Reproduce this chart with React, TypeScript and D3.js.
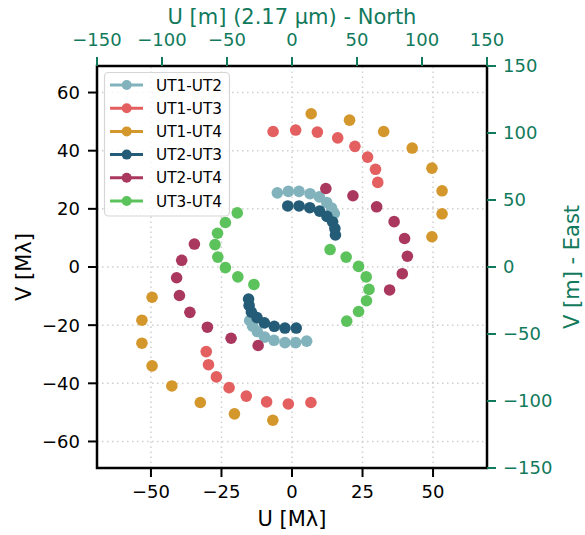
import * as d3 from "d3"

// UV coverage, values in M-lambda (each baseline: 8 points + conjugate points)
const baselines = ["UT1-UT2", "UT1-UT3", "UT1-UT4", "UT2-UT3", "UT2-UT4", "UT3-UT4"]
const colours = ["#82b3bd", "#e45f5f", "#d4972c", "#245c78", "#aa385e", "#5cc35c"]

const u12 = [-5.2, -1.3, 2.5, 6.4, 9.7, 12.3, 14.0, 15.0, 5.2, 1.3, -2.5, -6.4, -9.7, -12.3, -14.0, -15.0]
const v12 = [25.5, 26.0, 26.0, 25.2, 24.1, 22.2, 20.3, 18.4, -25.5, -26.0, -26.0, -25.2, -24.1, -22.2, -20.3, -18.4]
const u13 = [-6.7, 1.3, 9.0, 16.2, 22.3, 26.8, 29.6, 30.4, 6.7, -1.3, -9.0, -16.2, -22.3, -26.8, -29.6, -30.4]
const v13 = [46.6, 47.1, 46.4, 44.4, 41.5, 37.8, 33.6, 29.1, -46.6, -47.1, -46.4, -44.4, -41.5, -37.8, -33.6, -29.1]
const u14 = [6.8, 20.4, 32.5, 42.6, 49.6, 53.2, 53.2, 49.6, -6.8, -20.4, -32.5, -42.6, -49.6, -53.2, -53.2, -49.6]
const v14 = [52.7, 50.5, 46.6, 40.9, 34.0, 26.2, 18.3, 10.4, -52.7, -50.5, -46.6, -40.9, -34.0, -26.2, -18.3, -10.4]
const u23 = [-1.5, 2.5, 6.3, 9.8, 12.4, 14.4, 15.2, 15.4, 1.5, -2.5, -6.3, -9.8, -12.4, -14.4, -15.2, -15.4]
const v23 = [21.0, 21.0, 20.4, 19.2, 17.4, 15.5, 13.2, 11.0, -21.0, -21.0, -20.4, -19.2, -17.4, -15.5, -13.2, -11.0]
const u24 = [12.0, 21.6, 30.0, 36.2, 39.9, 40.9, 39.1, 34.6, -12.0, -21.6, -30.0, -36.2, -39.9, -40.9, -39.1, -34.6]
const v24 = [27.0, 24.5, 20.7, 15.6, 9.8, 3.7, -2.3, -7.9, -27.0, -24.5, -20.7, -15.6, -9.8, -3.7, 2.3, 7.9]
const u34 = [-19.4, -23.6, -26.4, -27.3, -26.3, -23.6, -19.2, -13.5, 19.4, 23.6, 26.4, 27.3, 26.3, 23.6, 19.2, 13.5]
const v34 = [18.6, 15.3, 11.6, 7.7, 3.4, -0.2, -3.4, -6.0, -18.6, -15.3, -11.6, -7.7, -3.4, 0.2, 3.4, 6.0]

const uSeries = [u12, u13, u14, u23, u24, u34]
const vSeries = [v12, v13, v14, v23, v24, v34]

const uTicks = [-50, -25, 0, 25, 50]
const vTicks = [-60, -40, -20, 0, 20, 40, 60]
const meterTicks = [-150, -100, -50, 0, 50, 100, 150]

const wavelength = 2.17 // micron
const maxMeters = 150
const maxMl = maxMeters / wavelength

const W = 585
const H = 535
const margin = { left: 97, right: 98, top: 66, bottom: 67 }
const green = "#127a5c"
const font = "DejaVu Sans, sans-serif"

export default function App() {
  const x = d3.scaleLinear().domain([-maxMl, maxMl]).range([margin.left, W - margin.right])
  const y = d3.scaleLinear().domain([-maxMl, maxMl]).range([H - margin.bottom, margin.top])
  const xm = d3.scaleLinear().domain([-maxMeters, maxMeters]).range(x.range())
  const ym = d3.scaleLinear().domain([-maxMeters, maxMeters]).range(y.range())
  const fmt = d3.format("d")

  const [x0, x1] = x.range()
  const [y0, y1] = y.range() // y0 bottom, y1 top
  const tick = 9

  return (
    <svg
      width={W}
      height={H}
      style={{ position: "absolute", left: 0, top: 0, background: "#fff" }}
      fontFamily={font}
    >
      {/* grid */}
      <g stroke="#cfcfcf" strokeWidth={1.5} strokeDasharray="1.5,3.5">
        {uTicks.map((t) => (
          <line key={"gx" + t} x1={x(t)} x2={x(t)} y1={y0} y2={y1} />
        ))}
        {vTicks.map((t) => (
          <line key={"gy" + t} x1={x0} x2={x1} y1={y(t)} y2={y(t)} />
        ))}
      </g>

      {/* points */}
      {baselines.map((b, i) => (
        <g key={b} fill={colours[i]}>
          {uSeries[i].map((u, j) => (
            <circle key={j} cx={x(u)} cy={y(vSeries[i][j])} r={5.8} />
          ))}
        </g>
      ))}

      {/* legend */}
      <g>
        <rect x={104.5} y={72.5} width={125} height={143.5} rx={4} fill="#fff" fillOpacity={0.8} stroke="#d6d6d6" strokeWidth={1.2} />
        {baselines.map((b, i) => {
          const ly = 85 + i * 23.2
          return (
            <g key={b}>
              <line x1={110} x2={143} y1={ly} y2={ly} stroke={colours[i]} strokeWidth={3} />
              <circle cx={126.7} cy={ly} r={5} fill={colours[i]} />
              <text x={156} y={ly} dy="0.36em" fontSize={15.3} fill="#000">
                {b}
              </text>
            </g>
          )
        })}
      </g>

      {/* frame */}
      <rect x={x0} y={y1} width={x1 - x0} height={y0 - y1} fill="none" stroke="#000" strokeWidth={2.5} />

      {/* bottom axis */}
      <g fontSize={18} textAnchor="middle">
        {uTicks.map((t) => (
          <g key={"bx" + t}>
            <line x1={x(t)} x2={x(t)} y1={y0} y2={y0 + tick} stroke="#000" strokeWidth={2} />
            <text x={x(t)} y={y0 + 30}>{fmt(t)}</text>
          </g>
        ))}
        <text x={(x0 + x1) / 2} y={526} fontSize={21}>U [Mλ]</text>
      </g>

      {/* left axis */}
      <g fontSize={18} textAnchor="end">
        {vTicks.map((t) => (
          <g key={"ly" + t}>
            <line x1={x0 - tick} x2={x0} y1={y(t)} y2={y(t)} stroke="#000" strokeWidth={2} />
            <text x={x0 - 17} y={y(t)} dy="0.36em">{fmt(t)}</text>
          </g>
        ))}
        <text
          transform={`translate(31,${(y0 + y1) / 2}) rotate(-90)`}
          textAnchor="middle"
          fontSize={21}
        >
          V [Mλ]
        </text>
      </g>

      {/* top axis (meters) */}
      <g fontSize={18} textAnchor="middle" fill={green}>
        {meterTicks.map((t) => (
          <g key={"tx" + t}>
            <line x1={xm(t)} x2={xm(t)} y1={y1} y2={y1 - tick} stroke={green} strokeWidth={2} />
            <text x={xm(t)} y={y1 - 20}>{fmt(t)}</text>
          </g>
        ))}
        <text x={(x0 + x1) / 2} y={24} fontSize={21}>
          U [m] (2.17 µm) - North
        </text>
      </g>

      {/* right axis (meters) */}
      <g fontSize={18} textAnchor="start" fill={green}>
        {meterTicks.map((t) => (
          <g key={"ry" + t}>
            <line x1={x1} x2={x1 + tick} y1={ym(t)} y2={ym(t)} stroke={green} strokeWidth={2} />
            <text x={x1 + 16} y={ym(t)} dy="0.36em">{fmt(t)}</text>
          </g>
        ))}
        <text
          transform={`translate(579,${(y0 + y1) / 2}) rotate(-90)`}
          textAnchor="middle"
          fontSize={21}
        >
          V [m] - East
        </text>
      </g>
    </svg>
  )
}
